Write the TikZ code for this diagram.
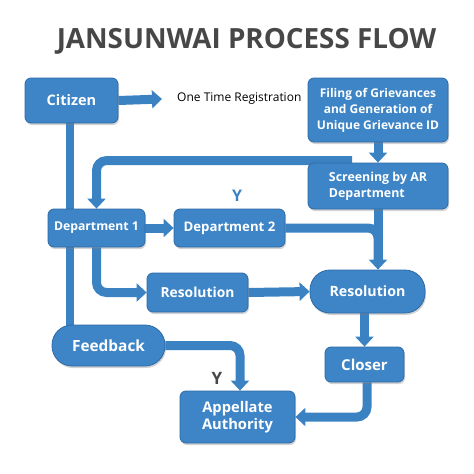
\documentclass[tikz,border=0pt]{standalone}
\usepackage{fontspec}
\setmainfont{Open Sans}
\usetikzlibrary{arrows.meta,calc,backgrounds,shadows}
\definecolor{boxblue}{HTML}{3D85C6}
\definecolor{boxedge}{HTML}{2D6AA6}
\definecolor{pipeblue}{HTML}{3B82C3}
\definecolor{titlegrey}{HTML}{474747}
\tikzset{
  box/.style={draw=boxedge, line width=0.8pt, fill=boxblue, rounded corners=6pt,
    text=white, font=\bfseries\fontsize{13.5}{16}\selectfont, align=center,
    inner sep=2pt, drop shadow={opacity=0.35, shadow xshift=1pt, shadow yshift=-2pt}},
  stadium/.style={box, rounded corners=20pt},
  pipe/.style={draw=pipeblue, line width=9pt, rounded corners=10pt},
  arr/.style={pipe, -{Triangle[width=18pt,length=10pt]}},
}
\begin{document}
\begin{tikzpicture}[x=1pt,y=-1pt]
\useasboundingbox (0,0) rectangle (474,474);
\node[text=titlegrey, font=\bfseries\fontsize{27.8}{30}\selectfont] (title) at (246.5,41) {JANSUNWAI PROCESS FLOW};
\node[box, minimum width=93pt, minimum height=45pt, font=\bfseries\fontsize{14.5}{16}\selectfont] (citizen) at (71.5,100.5) {Citizen};
\node[anchor=west, font=\fontsize{12}{14}\selectfont, text=black, inner sep=0pt] (reg) at (177,99) {One Time Registration};
\node[box, minimum width=140pt, minimum height=64pt, font=\bfseries\fontsize{12}{16}\selectfont] (filing) at (378,110) {Filing of Grievances\\and Generation of\\Unique Grievance ID};
\node[box, minimum width=140pt, minimum height=46pt, align=left, font=\bfseries\fontsize{12.4}{16}\selectfont] (screen) at (378,186) {Screening by AR\\Department};
\node[box, minimum width=97pt, minimum height=38pt, font=\bfseries\fontsize{12.2}{14}\selectfont] (dept1) at (96.5,228) {Department 1};
\node[box, minimum width=111pt, minimum height=38pt, font=\bfseries\fontsize{13.2}{15}\selectfont] (dept2) at (229.5,228) {Department 2};
\node[box, minimum width=101pt, minimum height=39pt, font=\bfseries\fontsize{13.8}{16}\selectfont] (res1) at (197.5,292.5) {Resolution};
\node[stadium, minimum width=115pt, minimum height=43pt, font=\bfseries\fontsize{14.2}{16}\selectfont] (res2) at (367.5,291.5) {Resolution};
\node[box, minimum width=79pt, minimum height=35pt, font=\bfseries\fontsize{15}{17}\selectfont] (closer) at (364.5,364.5) {Closer};
\node[stadium, minimum width=113pt, minimum height=41pt, font=\bfseries\fontsize{15.4}{17}\selectfont] (feedback) at (108.5,345.5) {Feedback};
\node[box, minimum width=115pt, minimum height=52pt, font=\bfseries\fontsize{14.7}{17}\selectfont] (appellate) at (237.5,417) {Appellate\\Authority};
\node[text=pipeblue, font=\bfseries\fontsize{16}{17}\selectfont, inner sep=0pt] (y1) at (237,196) {Y};
\node[text=titlegrey, font=\bfseries\fontsize{17}{18}\selectfont, inner sep=0pt] (y2) at (217,378) {Y};
\coordinate (regend) at (162,99);
\begin{scope}[on background layer]
  \draw[arr] (citizen.east) -- (regend);
  \draw[arr] (filing.south) -- (screen.north);
  \draw[arr] ($(screen.north)+(-26,-2)$) -| (dept1.north);
  \draw[arr] (dept1.east) -- (dept2.west);
  \draw[pipe] (dept2.east) -| ($(screen.south |- res2.north)+(0,-6)$);
  \draw[arr] (screen.south) -- (screen.south |- res2.north);
  \draw[pipe, line width=7.5pt] ($(citizen.south)+(-1.5,0)$) -- ($(citizen.south |- feedback.north)+(-1.5,4)$);
  \draw[arr] (dept1.south) |- (res1.west);
  \draw[arr] (res1.east) -- (res2.west);
  \draw[arr] (closer.north |- res2.south) -- (closer.north);
  \draw[arr] ($(closer.south)+(2.5,0)$) |- (appellate.east);
  \draw[arr] (feedback.east) -| ($(appellate.north)+(2.5,0)$);
\end{scope}
\end{tikzpicture}
\end{document}
